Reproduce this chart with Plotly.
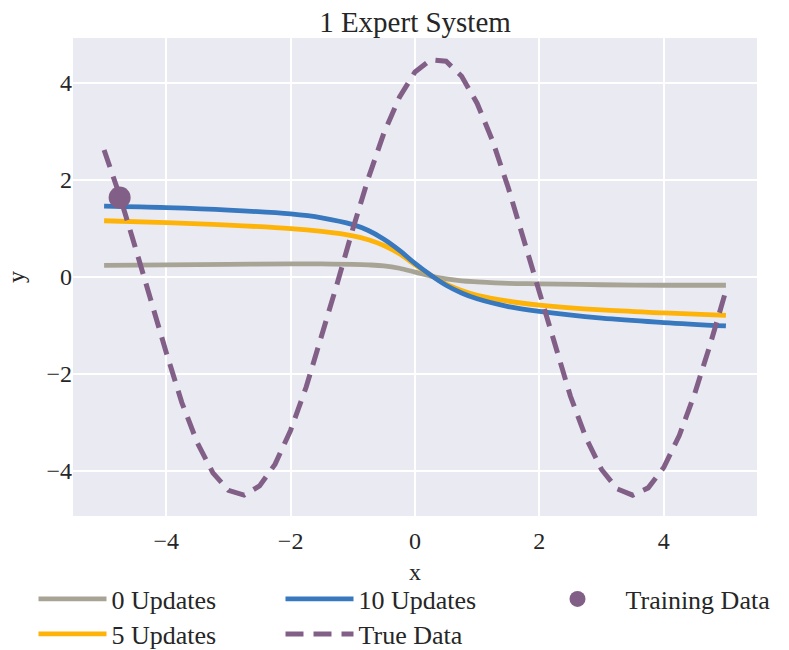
import plotly.graph_objects as go

# ---- data ----
true_x = [-5.0, -4.75, -4.5, -4.25, -4.0, -3.75, -3.5, -3.25, -3.0, -2.75, -2.5, -2.25,
          -2.0, -1.75, -1.5, -1.25, -1.0, -0.75, -0.5, -0.25, 0.0, 0.25, 0.5, 0.75,
          1.0, 1.25, 1.5, 1.75, 2.0, 2.25, 2.5, 2.75, 3.0, 3.25, 3.5, 3.75, 4.0,
          4.25, 4.5, 4.75, 5.0]
true_y = [2.62, 1.68, 0.62, -0.50, -1.56, -2.59, -3.42, -4.04, -4.40, -4.50, -4.31, -3.86,
          -3.16, -2.27, -1.24, -0.13, 0.99, 2.04, 2.97, 3.71, 4.23, 4.48, 4.45, 4.14,
          3.58, 2.80, 1.84, 0.76, -0.36, -1.45, -2.46, -3.32, -3.97, -4.37, -4.50, -4.35, -3.93,
          -3.27, -2.40, -1.38, -0.28]

model_x = [-5.0, -4.0, -3.0, -2.0, -1.5, -1.0, -0.75, -0.5, -0.25, 0.0, 0.25, 0.5,
           0.75, 1.0, 1.5, 2.0, 3.0, 4.0, 5.0]
upd0_y = [0.24, 0.25, 0.26, 0.27, 0.27, 0.26, 0.25, 0.23, 0.18, 0.10, 0.02, -0.04,
          -0.08, -0.10, -0.13, -0.14, -0.16, -0.17, -0.17]
upd5_y = [1.16, 1.12, 1.07, 1.00, 0.94, 0.85, 0.77, 0.65, 0.48, 0.25, 0.04, -0.15,
          -0.28, -0.38, -0.50, -0.58, -0.68, -0.74, -0.79]
upd10_y = [1.46, 1.43, 1.38, 1.30, 1.22, 1.08, 0.96, 0.78, 0.55, 0.28, 0.04, -0.17,
           -0.33, -0.45, -0.61, -0.71, -0.85, -0.94, -1.01]

train_x = [-4.75]
train_y = [1.64]

x_ticks = [-4, -2, 0, 2, 4]
y_ticks = [-4, -2, 0, 2, 4]

GRAY = "#a8a495"
AMBER = "#feb308"
BLUE = "#3778bf"
PURPLE = "#825f87"
FONT = "Liberation Serif"
TXT = "#262626"

# the page places the figure 8px in from the top-left corner
W, H = 781, 642
OFF = 8

fig = go.Figure()
fig.add_trace(go.Scatter(x=model_x, y=upd0_y, mode="lines", name="0 Updates",
                         line=dict(color=GRAY, width=4.8, shape="spline"), legend="legend"))
fig.add_trace(go.Scatter(x=model_x, y=upd5_y, mode="lines", name="5 Updates",
                         line=dict(color=AMBER, width=4.8, shape="spline"), legend="legend2"))
fig.add_trace(go.Scatter(x=model_x, y=upd10_y, mode="lines", name="10 Updates",
                         line=dict(color=BLUE, width=4.8, shape="spline"), legend="legend3"))
fig.add_trace(go.Scatter(x=true_x, y=true_y, mode="lines", name="True Data",
                         line=dict(color=PURPLE, width=5, dash="18px,10px"), legend="legend4"))
fig.add_trace(go.Scatter(x=train_x, y=train_y, mode="markers", name="Training Data",
                         marker=dict(color=PURPLE, size=22), legend="legend5"))


def leg(xpx, ypx, iw):
    return dict(xref="container", yref="container", x=(xpx - OFF) / W, y=1 - (ypx - OFF) / H,
                xanchor="left", yanchor="middle", itemwidth=iw,
                font=dict(family=FONT, size=26, color=TXT),
                bgcolor="rgba(0,0,0,0)", borderwidth=0)


fig.update_layout(
    width=W, height=H,
    margin=dict(l=73 - OFF, r=32, t=38 - OFF, b=134, autoexpand=False),
    paper_bgcolor="white",
    plot_bgcolor="#eaeaf2",
    font=dict(family=FONT, size=24, color=TXT),
    title=dict(text="1 Expert System", x=0.5, xref="paper", xanchor="center",
               yref="container", y=1 - 4 / H, yanchor="top",
               font=dict(family=FONT, size=29, color=TXT)),
    showlegend=True,
    legend=leg(33.5, 599, 68),
    legend2=leg(33.5, 634, 68),
    legend3=leg(280.5, 599, 68),
    legend4=leg(280.5, 634, 68),
    legend5=leg(529.5, 599, 86),
    annotations=[dict(text="y", xref="paper", yref="paper", x=-57 / 684, y=0.5,
                      xanchor="center", yanchor="middle", textangle=-90, showarrow=False,
                      font=dict(family=FONT, size=24, color=TXT))],
)
fig.update_xaxes(range=[-5.5, 5.5], tickvals=x_ticks, showgrid=True, gridcolor="white",
                 gridwidth=1.6, zeroline=False, showline=False, ticks="",
                 ticklabelstandoff=8,
                 title=dict(text="x", standoff=10, font=dict(family=FONT, size=24)),
                 tickfont=dict(family=FONT, size=24))
fig.update_yaxes(range=[-4.93, 4.93], tickvals=y_ticks, showgrid=True, gridcolor="white",
                 gridwidth=1.6, zeroline=False, showline=False, ticks="",
                 tickfont=dict(family=FONT, size=24))

fig.write_html("out.html")
